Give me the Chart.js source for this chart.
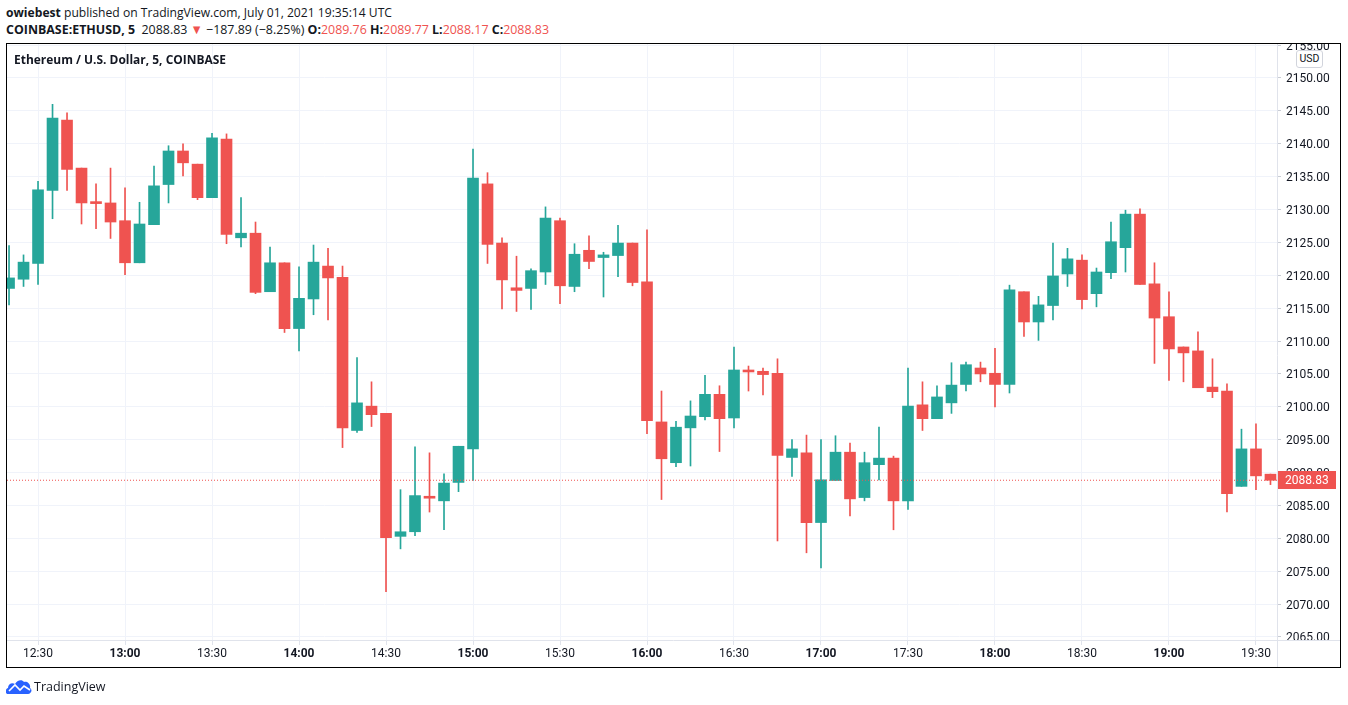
<!DOCTYPE html>
<html><head><meta charset="utf-8">
<script src="https://cdn.jsdelivr.net/npm/chart.js@4.4.0/dist/chart.umd.min.js"></script>
<style>
html,body{margin:0;padding:0;background:#fff;width:1348px;height:705px;overflow:hidden;font-family:"Open Sans",Roboto,sans-serif;color:#131722}
#c{position:absolute;left:0;top:43px}
.t{position:absolute;white-space:nowrap;transform-origin:0 50%;line-height:16px}
.r{color:#ef5350}
#usd{position:absolute;left:1296px;top:50px;width:25px;height:16px;border:1px solid #d1d4dc;border-radius:3px;font-size:10.5px;line-height:16px;text-align:center;background:#fff;font-family:Roboto,sans-serif}
</style></head>
<body>
<canvas id="c" width="1348" height="662"></canvas>
<div class="t" id="h1" style="left:6px;top:4px;font-size:13px"><b>owiebest</b> published on TradingView.com, July 01, 2021 19:35:14 UTC</div>
<div class="t" id="h2" style="left:6px;top:21px;font-size:13px"><b>COINBASE:ETHUSD, 5</b>&nbsp; 2088.83 <span class="r">▼</span> −187.89 (−8.25%) <b>O:</b><span class="r">2089.76</span> <b>H:</b><span class="r">2089.77</span> <b>L:</b><span class="r">2088.17</span> <b>C:</b><span class="r">2088.83</span></div>
<div class="t" id="ttl" style="left:14px;top:52px;font-size:12.5px;font-weight:bold">Ethereum / U.S. Dollar, 5, COINBASE</div>
<div id="usd">USD</div>
<svg style="position:absolute;left:6px;top:678px" width="26" height="17" viewBox="0 0 26 17">
  <path d="M2 16 C-1 16 -1 11 2 10 C2 6 6 4 9 6 C11 2 16 1 18 4 C21 3 25 6 24 10 C27 12 25 16 22 16 Z" fill="#2962ff"/>
  <path d="M3 13 L9 7 L14 12 L18 8 L24 12" fill="none" stroke="#fff" stroke-width="1.6"/>
</svg>
<div class="t" style="left:34px;top:679px;font-size:12.5px">TradingView</div>
<script>
// ---- data ----
const timeLabels = ['12:30','13:00','13:30','14:00','14:30','15:00','15:30','16:00','16:30','17:00','17:30','18:00','18:30','19:00','19:30'];
const timeLabelIndex = [2,8,14,20,26,32,38,44,50,56,62,68,74,80,86];
const priceTicks = [2065,2070,2075,2080,2085,2090,2095,2100,2105,2110,2115,2120,2125,2130,2135,2140,2145,2150,2155];
const opens  = [2118.0,2119.4,2121.8,2132.9,2143.6,2136.3,2131.2,2131.0,2128.3,2121.9,2127.7,2133.8,2138.9,2136.9,2131.8,2140.7,2125.7,2126.4,2117.5,2121.9,2111.9,2116.4,2121.4,2119.7,2096.4,2100.1,2099.0,2080.3,2081.0,2086.4,2085.7,2088.5,2093.6,2133.9,2124.9,2118.1,2118.0,2120.5,2128.3,2118.3,2123.8,2122.7,2123.0,2124.9,2119.0,2097.7,2091.5,2096.8,2098.5,2101.9,2098.3,2105.6,2105.4,2105.1,2092.3,2093.0,2082.4,2088.8,2093.1,2086.2,2091.2,2092.2,2085.7,2100.3,2098.2,2100.6,2103.4,2105.9,2105.1,2103.4,2117.5,2112.9,2115.4,2120.2,2122.3,2117.2,2120.4,2124.2,2129.3,2118.7,2113.7,2109.1,2108.5,2103.0,2102.4,2087.9,2093.6,2089.76];
const highs  = [2124.5,2123.1,2134.3,2146.0,2144.7,2136.3,2133.9,2136.3,2133.3,2131.1,2136.6,2139.7,2140.0,2136.9,2141.6,2141.5,2131.8,2128.1,2124.3,2121.9,2121.3,2124.6,2124.1,2121.4,2107.5,2103.8,2099.0,2087.4,2093.9,2093.0,2089.8,2094.0,2139.2,2135.6,2125.7,2122.9,2121.0,2130.4,2128.7,2124.8,2126.0,2123.5,2127.6,2124.9,2126.9,2102.4,2097.8,2100.9,2104.8,2103.2,2109.1,2106.2,2105.9,2107.3,2095.0,2095.7,2095.0,2095.6,2094.5,2093.1,2096.9,2092.5,2105.9,2103.8,2103.2,2106.7,2106.8,2106.8,2108.9,2118.5,2117.5,2116.8,2124.9,2124.1,2123.1,2121.1,2128.1,2129.9,2130.1,2121.9,2117.5,2109.1,2111.4,2107.3,2103.5,2096.6,2097.4,2089.77];
const lows   = [2115.5,2118.3,2118.6,2128.6,2132.9,2127.8,2127.1,2125.6,2120.1,2121.9,2127.7,2131.0,2135.1,2131.5,2131.8,2124.8,2124.3,2117.2,2117.5,2111.3,2108.5,2114.0,2113.2,2093.8,2096.1,2097.0,2071.9,2078.4,2080.4,2084.0,2081.3,2087.1,2088.8,2121.8,2114.9,2114.5,2114.8,2118.6,2115.7,2117.5,2121.0,2116.7,2119.8,2118.4,2095.9,2085.9,2090.9,2091.0,2098.0,2093.2,2096.8,2102.4,2101.8,2079.6,2089.4,2077.8,2075.5,2088.8,2083.4,2085.7,2088.9,2081.3,2084.4,2096.4,2098.2,2099.0,2102.4,2103.8,2100.0,2102.1,2110.7,2110.1,2113.2,2118.3,2114.9,2115.2,2119.5,2120.5,2118.6,2106.6,2104.0,2103.8,2102.9,2101.4,2084.0,2087.9,2087.4,2088.17];
const closes = [2119.6,2122.0,2133.0,2143.9,2136.1,2131.0,2130.9,2128.1,2121.9,2127.8,2133.6,2138.9,2137.1,2131.8,2140.9,2126.2,2126.4,2117.4,2121.9,2111.9,2116.5,2122.0,2119.6,2096.8,2100.6,2098.8,2080.1,2081.0,2086.5,2086.1,2088.4,2094.0,2134.8,2124.7,2119.3,2117.7,2120.7,2128.7,2118.4,2123.2,2122.1,2123.1,2124.9,2118.9,2097.9,2092.1,2096.9,2098.6,2101.9,2098.2,2105.6,2105.3,2104.9,2092.6,2093.6,2082.4,2088.9,2093.1,2086.0,2091.5,2092.2,2085.7,2100.1,2098.2,2101.5,2103.3,2106.4,2105.0,2103.4,2117.8,2112.9,2115.5,2119.9,2122.5,2116.3,2120.5,2125.1,2129.3,2118.6,2113.5,2108.8,2108.2,2102.9,2102.3,2086.8,2093.6,2089.5,2088.83];
const lastPrice = 2088.83;

const GREEN = '#26a69a', RED = '#ef5350', GRID = '#f0f3fa', TEXT = '#131722';
const X_MIN = -0.14, X_MAX = 87.45, Y_MIN = 2064.54, Y_MAX = 2155.17;
const colors = opens.map((o,i)=> closes[i] >= o ? GREEN : RED);

const frame = {
  id:'frame',
  afterDraw(chart){
    const c = chart.ctx, ca = chart.chartArea, ys = chart.scales.y;
    c.save();
    c.strokeStyle = '#e0e3eb'; c.lineWidth = 1;
    c.beginPath();
    c.moveTo(ca.right+0.5, 0); c.lineTo(ca.right+0.5, 625);
    c.moveTo(6, ca.bottom+0.5); c.lineTo(1341, ca.bottom+0.5);
    c.stroke();
    c.strokeStyle = '#000';
    c.strokeRect(6.5, 0.5, 1334, 624);
    // last price label
    const y = Math.round(ys.getPixelForValue(lastPrice));
    c.fillStyle = RED;
    c.fillRect(ca.right+1, y-9, 58, 18);
    c.fillStyle = '#fff';
    c.font = '12px Roboto, sans-serif';
    c.textBaseline = 'middle'; c.textAlign = 'left';
    c.fillText(lastPrice.toFixed(2), ca.right+8, y+1);
    c.restore();
  }
};

new Chart(document.getElementById('c'), {
  type:'bar',
  data:{datasets:[
    {type:'line', order:0, data:[{x:X_MIN,y:lastPrice},{x:X_MAX,y:lastPrice}], borderColor:RED, borderWidth:1, borderDash:[1,2], pointRadius:0},
    {order:2, data: lows.map((l,i)=>({x:i, y:[l, highs[i]]})), backgroundColor: colors, barThickness:1, grouped:false},
    {order:1, data: opens.map((o,i)=>({x:i, y:[o, closes[i]]})), backgroundColor: colors, barThickness:11, grouped:false, minBarLength:1}
  ]},
  options:{
    responsive:false, animation:false, devicePixelRatio:1,
    layout:{padding:{left:7, top:1, right:7, bottom:37}},
    plugins:{legend:{display:false}, tooltip:{enabled:false}},
    scales:{
      x:{type:'linear', min:X_MIN, max:X_MAX, offset:false,
         grid:{color:GRID, offset:false, tickLength:5, tickColor:'#e0e3eb'}, border:{display:false},
         afterBuildTicks(s){ s.ticks = timeLabelIndex.map(v=>({value:v})); },
         afterFit(s){ s.height = 28; s.paddingLeft = 0; s.paddingRight = 0; },
         ticks:{autoSkip:false, maxRotation:0, padding:2, color:TEXT,
           callback(v){ const k = timeLabelIndex.indexOf(v); return k>=0 ? timeLabels[k] : ''; },
           font(ctx){ const v = ctx.tick ? ctx.tick.value : 0; const k = timeLabelIndex.indexOf(v); const bold = k>=0 && timeLabels[k].endsWith(':00'); return {family:'Roboto, sans-serif', size:12, weight: bold ? 'bold' : 'normal'}; }
         }},
      y:{position:'right', min:Y_MIN, max:Y_MAX, beginAtZero:false,
         grid:{color:GRID, tickLength:4, tickColor:'#c8ccd4'}, border:{display:false},
         afterBuildTicks(s){ s.ticks = priceTicks.map(v=>({value:v})); },
         afterFit(s){ s.width = 64; s.paddingTop = 0; s.paddingBottom = 0; },
         ticks:{padding:5, labelOffset:1.5, color:TEXT, font:{family:'Roboto, sans-serif', size:12}, callback(v){ return Number(v).toFixed(2); }}
      }
    }
  },
  plugins:[frame]
});

function fitW(id, w){ const el=document.getElementById(id); const a=el.getBoundingClientRect().width; el.style.transform='scaleX('+(w/a)+')'; }
fitW('h1', 386); fitW('h2', 543); fitW('ttl', 212);
</script>
</body></html>
